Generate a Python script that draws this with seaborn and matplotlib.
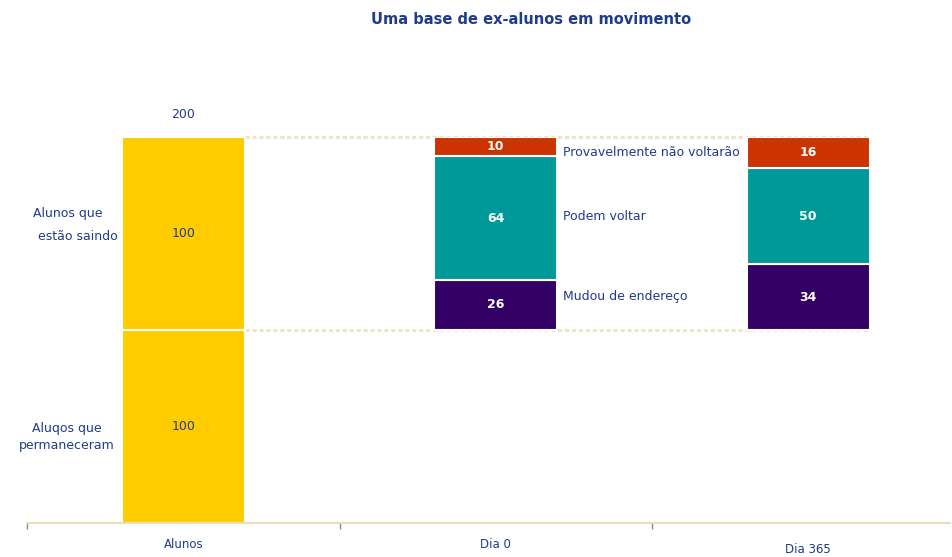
import matplotlib
matplotlib.use("Agg")
import matplotlib.pyplot as plt
import matplotlib.transforms as mtransforms
import seaborn as sns
import pandas as pd

sns.set_theme(style="white")
plt.rcParams['font.family'] = ['DejaVu Sans']

categories = ["Alunos", "Dia 0", "Dia 365"]
alunos_values = [100, 100]
dia0_values = [26, 64, 10]
dia365_values = [34, 50, 16]
total_label = 200
series_labels = ["Mudou de endereço", "Podem voltar", "Provavelmente não voltarão"]

TXT = "#1f3c8c"
YELLOW = "#ffcc00"
seg_colors = ["#330066", "#009999", "#cc3300"]

rows = []
b = 0
for v in alunos_values:
    rows.append(dict(categ="Alunos", val=v, base=b, color=YELLOW, txt=TXT))
    b += v
for cat, vals in [("Dia 0", dia0_values), ("Dia 365", dia365_values)]:
    b = 100
    for v, c in zip(vals, seg_colors):
        rows.append(dict(categ=cat, val=v, base=b, color=c, txt="white"))
        b += v
df = pd.DataFrame(rows)

W, H = 953, 557
fig = plt.figure(figsize=(W / 100, H / 100), dpi=100)
ax = fig.add_axes([27 / W, 34 / H, (950 - 27) / W, (523 - 137) / H])
width = 0.394

for r in df.to_dict("records"):
    sns.barplot(x=[r["categ"]], y=[r["val"]], bottom=r["base"], order=categories,
                color=r["color"], width=width, edgecolor="white", linewidth=1.5,
                saturation=1, ax=ax)
    ax.text(categories.index(r["categ"]), r["base"] + r["val"] / 2, f"{r['val']}",
            ha="center", va="center", color=r["txt"], fontsize=9,
            fontweight="bold" if r["txt"] == "white" else "normal")

ax.set_xlim(-0.5, 2.5 - 14.5 / 312.5)
ax.set_ylim(0, 200)

# guide lines
ax.hlines([200, 100], width / 2, 2 + width / 2, colors="#ece3c4", linestyles=(0, (1.5, 1)),
          linewidth=2, zorder=0.5, clip_on=False)
for i in (1, 2):
    ax.hlines(100, i - width / 2, i + width / 2, colors="white", linestyles=(0, (1, 1)),
              linewidth=1.5, zorder=5)

ax.text(0, 211.5, f"{total_label}", ha="center", va="center", color=TXT, fontsize=9)

ax.text(-0.37, 160.5, "Alunos que", ha="center", va="center", color=TXT, fontsize=9)
ax.text(-0.338, 148.2, "estão saindo", ha="center", va="center", color=TXT, fontsize=9)
ax.text(-0.372, 49.2, "Aluqos que", ha="center", va="center", color=TXT, fontsize=9)
ax.text(-0.374, 40, "permaneceram", ha="center", va="center", color=TXT, fontsize=9)

for name, y in zip(series_labels, [117.6, 159, 192.2]):
    ax.text(1.215, y, name, ha="left", va="center", color=TXT, fontsize=9)

fig.text(0.557, 1 - 20 / H, "Uma base de ex-alunos em movimento", ha="center",
         va="center", color=TXT, fontsize=10.5, fontweight="bold")

for s in ["top", "right", "left"]:
    ax.spines[s].set_visible(False)
ax.spines["bottom"].set_color("#e8dfbf")
ax.spines["bottom"].set_linewidth(1.5)
ax.set_yticks([])
ax.set_xticks([-0.5, 0.5, 1.5])
ax.set_xticklabels([])
ax.tick_params(axis="x", which="major", length=4, width=1, color="#888888", bottom=True)
ax.set_xticks([0, 1, 2], minor=True)
ax.set_xticklabels(categories, minor=True)
ax.tick_params(axis="x", which="minor", length=0, pad=11, labelsize=8.5, labelcolor=TXT)
ax.set_xlabel("")
ax.set_ylabel("")
lab = ax.get_xticklabels(minor=True)[2]
lab.set_transform(lab.get_transform() + mtransforms.ScaledTranslation(0, -5 / 100, fig.dpi_scale_trans))

fig.savefig("out.png", dpi=100)
